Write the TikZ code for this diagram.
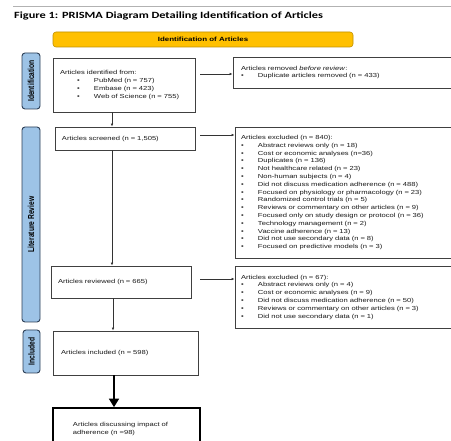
\documentclass[tikz,border=0pt]{standalone}
\usepackage{fontspec}
\setmainfont{Liberation Sans}[FakeStretch=1.3]
\newfontfamily\sidefont{Liberation Sans}
\newfontfamily\titlefont{Carlito}[FakeStretch=1.3]
\usetikzlibrary{arrows.meta}
\definecolor{boxline}{HTML}{404040}
\definecolor{sidefill}{HTML}{9DC3E6}
\definecolor{sideline}{HTML}{2E4057}
\definecolor{barfill}{HTML}{FFC000}
\definecolor{barline}{HTML}{C09000}
\definecolor{txt}{HTML}{1A1A1A}
\newcommand{\bitem}[2][0pt]{\\\hspace*{#1}\makebox[17pt][l]{\textbullet}#2}
\newcommand{\sidetext}[1]{\scalebox{1}[1.3]{\sidefont\bfseries\fontsize{6.7}{7}\selectfont #1}}
\tikzset{
  box/.style={draw=boxline, line width=0.8pt, rectangle, inner ysep=0pt, align=left, text=txt},
  side/.style={draw=sideline, fill=sidefill, line width=0.9pt, rounded corners=3pt, inner sep=0pt},
  sidelab/.style={rotate=90, inner sep=0pt, text=black},
  arr/.style={draw=black!80, line width=0.6pt, -{Latex[length=3pt,width=2.6pt]}},
  thickarr/.style={draw=black, line width=1.6pt, -{Triangle[length=8.5pt,width=10pt]}},
}
\begin{document}
\begin{tikzpicture}[x=1pt,y=-1pt, font=\fontsize{5.85}{7.8}\selectfont]
\useasboundingbox (0,0) rectangle (451,441);
\clip (0,0) rectangle (451,441);
\fill[white] (0,0) rectangle (451,441);
% top rule and title
\draw[gray!60, line width=1.5pt] (13,6.7) -- (451,6.7);
\node[anchor=west, inner sep=0pt, font=\titlefont\bfseries\fontsize{9.5}{11}\selectfont] (title) at (14,15.5)
  {Figure 1: PRISMA Diagram Detailing Identification of Articles};
% yellow bar
\node[draw=barline, fill=barfill, line width=0.6pt, rounded corners=3pt, minimum width=300pt, minimum height=15pt,
  inner sep=0pt, font=\fontsize{6.1}{7}\selectfont\bfseries] (bar) at (203,39.5) {Identification of Articles};
% side bars
\node[side, minimum width=18pt, minimum height=56pt] (sidea) at (31,81) {};
\node[sidelab] (sidealab) at (sidea.center) {\sidetext{Identification}};
\node[side, minimum width=18pt, minimum height=195pt] (sideb) at (31,224.5) {};
\node[sidelab] (sideblab) at (sideb.center) {\sidetext{Literature Review}};
\node[side, minimum width=17pt, minimum height=43pt] (sidec) at (31.5,351.5) {};
\node[sidelab] (sideclab) at (sidec.center) {\sidetext{Included}};
% left column
\node[box, inner xsep=7pt, text width=128pt, minimum height=54pt] (ident) at (124,85)
  {Articles identified from:\bitem[17pt]{PubMed (n = 757)}\bitem[17pt]{Embase (n = 423)}\bitem[17pt]{Web of Science (n = 755)}};
\node[box, inner xsep=7pt, text width=126pt, minimum height=23pt] (scr) at (125,138.5)
  {Articles screened (n = 1,505)};
\node[box, inner xsep=7pt, text width=126pt, minimum height=32pt] (rev) at (121,282)
  {Articles reviewed (n = 665)};
\node[box, inner xsep=8pt, text width=129pt, minimum height=44pt] (incl) at (125.5,353)
  {Articles included (n = 598)};
\node[box, draw=black, line width=1.7pt, inner xsep=20pt, text width=107pt, minimum height=42pt] (final) at (126.5,429)
  {Articles discussing impact of\\adherence (n =98)};
% right column
\node[box, inner xsep=8pt, text width=211pt, minimum height=31pt] (rem) at (346.5,72.5)
  {Articles removed \textit{before review}:\bitem{Duplicate articles removed (n = 433)}};
\node[box, inner xsep=6pt, text width=213pt, minimum height=131pt] (exa) at (347.5,192.5)
  {Articles excluded (n = 840):%
   \bitem{Abstract reviews only (n = 18)}%
   \bitem{Cost or economic analyses (n=36)}%
   \bitem{Duplicates (n = 136)}%
   \bitem{Not healthcare related (n = 23)}%
   \bitem{Non-human subjects (n = 4)}%
   \bitem{Did not discuss medication adherence (n = 488)}%
   \bitem{Focused on physiology or pharmacology (n = 23)}%
   \bitem{Randomized control trials (n = 5)}%
   \bitem{Reviews or commentary on other articles (n = 9)}%
   \bitem{Focused only on study design or protocol (n = 36)}%
   \bitem{Technology management (n = 2)}%
   \bitem{Vaccine adherence (n = 13)}%
   \bitem{Did not use secondary data (n = 8)}%
   \bitem{Focused on predictive models (n = 3)}};
\node[box, inner xsep=6pt, text width=213pt, minimum height=62pt] (exb) at (347.5,297)
  {Articles excluded (n = 67):%
   \bitem{Abstract reviews only (n = 4)}%
   \bitem{Cost or economic analyses (n = 9)}%
   \bitem{Did not discuss medication adherence (n = 50)}%
   \bitem{Reviews or commentary on other articles (n = 3)}%
   \bitem{Did not use secondary data (n = 1)}};
% connector guides
\coordinate (xa) at (112,0);
\coordinate (xb) at (113,0);
\coordinate (xc) at (114,0);
\coordinate (ya) at (0,74);
\coordinate (yb) at (0,135);
\coordinate (yc) at (0,279);
% vertical connectors
\draw[arr] (ident.south -| xa) -- (scr.north -| xa);
\draw[arr] (scr.south -| xa) -- (rev.north -| xa);
\draw[arr] (rev.south -| xb) -- (incl.north -| xb);
\draw[thickarr] (incl.south -| xc) -- (final.north -| xc);
% horizontal connectors
\draw[arr, shorten <=5pt] (ident.east |- ya) -- (rem.west |- ya);
\draw[arr, shorten <=5pt] (scr.east |- yb) -- (exa.west |- yb);
\draw[arr, shorten <=9pt] (rev.east |- yc) -- (exb.west |- yc);
\end{tikzpicture}
\end{document}
